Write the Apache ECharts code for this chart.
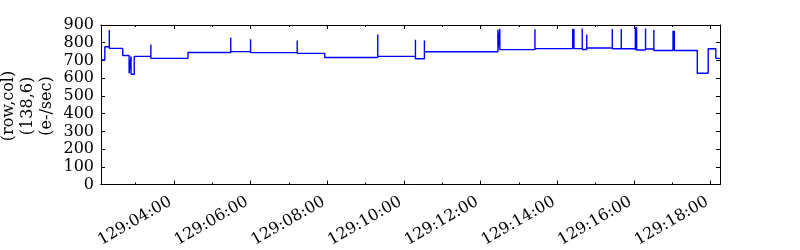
<!DOCTYPE html>
<html>
<head>
<meta charset="utf-8">
<script src="https://cdn.jsdelivr.net/npm/echarts@6/dist/echarts.min.js"></script>
<style>html,body{margin:0;padding:0;background:#fff}#c{width:800px;height:250px}</style>
</head>
<body>
<div id="c"></div>
<script>
// seconds after 129:00:00
const timeSec = [126,132,139,139,160,170,173,173,178,204,204,262,329,329,360,360,433,433,476,559,559,618,618,632,632,747,747,750,750,805,805,864,864,866,866,879,879,886,886,926,926,940,940,962,962,964,964,978,978,991,991,1021,1021,1023,1023,1059,1076,1088,1094.5];
const rate = [703,777,872,768,728,628,723,622,723,790,712,745,830,750,819,744,812,740,717,847,723,817,710,812,749,874,760,878,761,876,767,878,767,878,767,880,762,846,770,878,766,878,766,888,759,888,759,880,765,872,756,868,756,868,756,628,766,712,712];
const majorTicks = [240,360,480,600,720,840,960,1080];
const minorTicks = [180,300,420,540,660,780,900,1020];
const yTicks = [0,100,200,300,400,500,600,700,800,900];
const yLabelLines = ['(row,col)','(138,6)','(e-/sec)'];

const xMin = 126, xMax = 1094.5;
const font = 'DejaVu Serif';
function fmt(s){
  const m = Math.floor(s/60), sec = Math.round(s%60);
  return '129:' + String(m).padStart(2,'0') + ':' + String(sec).padStart(2,'0');
}
const line = {show:true, lineStyle:{color:'#000', width:1}};
function xAx(pos, ticks, len, labels){
  return {
    type:'value', position:pos, min:xMin, max:xMax,
    axisLine: line,
    axisTick:{show:true, inside:true, length:len, customValues:ticks, lineStyle:{color:'#000',width:1}},
    axisLabel: labels ? {show:true, customValues:ticks, rotate:30, margin:14, padding:[0,4,0,0], color:'#000', fontFamily:font, fontSize:16, formatter:fmt} : {show:false},
    splitLine:{show:false}
  };
}
const data = timeSec.map((t,i)=>[t, rate[i]]);
const chart = echarts.init(document.getElementById('c'));
chart.setOption({
  animation:false,
  grid:{left:101, right:80, top:25, bottom:62},
  xAxis:[
    xAx('bottom', majorTicks, 4, true),
    xAx('bottom', minorTicks, 2, false),
    xAx('top', majorTicks, 4, false),
    xAx('top', minorTicks, 2, false)
  ],
  yAxis:[
    {type:'value', position:'left', min:0, max:900, interval:100, axisLine:line,
     axisTick:{show:true, inside:true, length:4, lineStyle:{color:'#000'}},
     axisLabel:{color:'#000', fontFamily:font, fontSize:16, margin:7},
     splitLine:{show:false}},
    {type:'value', position:'right', min:0, max:900, interval:100, axisLine:line,
     axisTick:{show:true, inside:true, length:4, lineStyle:{color:'#000'}},
     axisLabel:{show:false}, splitLine:{show:false}}
  ],
  graphic: yLabelLines.map((txt,i)=>({
    type:'text', x: 9 + i*19, y: 106, rotation: Math.PI/2,
    style:{text:txt, fill:'#000', font:'16px "DejaVu Serif"', textAlign:'center', textVerticalAlign:'middle'}
  })),
  series:[{
    type:'line', xAxisIndex:0, yAxisIndex:0, data:data, step:'end',
    showSymbol:false, lineStyle:{color:'#0000ff', width:1.4}
  }]
});
</script>
</body>
</html>
